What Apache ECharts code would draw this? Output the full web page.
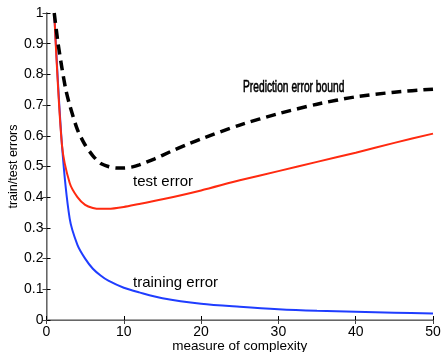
<!DOCTYPE html>
<html>
<head>
<meta charset="utf-8">
<script src="https://cdn.jsdelivr.net/npm/echarts@6/dist/echarts.min.js"></script>
<style>html,body{margin:0;padding:0;background:#fff;}#c{width:443px;height:352px;}</style>
</head>
<body>
<div id="c"></div>
<script>
const trainX = [1, 2, 3, 4, 5, 6, 7, 8, 10, 12, 15, 20, 25, 30, 35, 40, 45, 50];
const trainY = [1.0, 0.57, 0.33, 0.245, 0.2, 0.167, 0.145, 0.128, 0.105, 0.09, 0.071, 0.053, 0.043, 0.035, 0.03, 0.027, 0.024, 0.021];
const testX = [1, 2, 3, 4, 5, 6, 7, 8, 10, 12, 15, 20, 25, 30, 35, 40, 45, 50];
const testY = [1.0, 0.57, 0.446, 0.40, 0.375, 0.365, 0.362, 0.362, 0.368, 0.378, 0.393, 0.422, 0.455, 0.485, 0.515, 0.545, 0.577, 0.607];
const boundX = [1, 1.5, 2, 2.5, 3, 4, 5, 6, 7, 8, 9, 10, 11, 12, 14, 16, 18, 20, 25, 30, 35, 40, 45, 50];
const boundY = [1.0, 0.9, 0.82, 0.75, 0.70, 0.62, 0.57, 0.535, 0.51, 0.5, 0.495, 0.495, 0.498, 0.505, 0.525, 0.548, 0.57, 0.59, 0.635, 0.672, 0.703, 0.727, 0.742, 0.752];
const xTicks = [0, 10, 20, 30, 40, 50];
const yTicks = [0, 0.1, 0.2, 0.3, 0.4, 0.5, 0.6, 0.7, 0.8, 0.9, 1];

const zip = (xs, ys) => xs.map((x, i) => [x, ys[i]]);
const font = 'Liberation Sans, Arial, sans-serif';
const chart = echarts.init(document.getElementById('c'));
const tickFmt = v => String(Math.round(v * 10) / 10);
chart.setOption({
  animation: false,
  backgroundColor: '#fff',
  grid: { left: 46.5, right: 10, top: 13, bottom: 32, containLabel: false, outerBoundsMode: 'none' },
  xAxis: [{
    type: 'value', min: xTicks[0], max: xTicks[xTicks.length - 1], interval: 10,
    name: 'measure of complexity', nameLocation: 'middle', nameGap: 19, nameMoveOverlap: false,
    nameTextStyle: { fontFamily: font, fontSize: 13.5, color: '#000' },
    axisLine: { lineStyle: { color: '#000', width: 1 } },
    axisTick: { inside: true, length: 4, lineStyle: { color: '#000' } },
    axisLabel: { fontFamily: font, fontSize: 14, color: '#000', margin: 5 },
    splitLine: { show: false }
  }, {
    type: 'value', min: xTicks[0], max: xTicks[xTicks.length - 1], interval: 10, position: 'top',
    axisLine: { show: true, lineStyle: { color: '#888', width: 1.5 } },
    axisTick: { inside: true, length: 4, lineStyle: { color: '#444' } },
    axisLabel: { show: false }, splitLine: { show: false }
  }],
  yAxis: [{
    type: 'value', min: yTicks[0], max: yTicks[yTicks.length - 1], interval: 0.1,
    name: 'train/test errors', nameLocation: 'middle', nameGap: 26, nameRotate: 90, nameMoveOverlap: false,
    nameTextStyle: { fontFamily: font, fontSize: 12.5, color: '#000' },
    axisLine: { show: true, lineStyle: { color: '#000', width: 1 } },
    axisTick: { show: true, inside: true, length: 4, lineStyle: { color: '#000' } },
    axisLabel: { fontFamily: font, fontSize: 14, color: '#000', margin: 3, formatter: tickFmt },
    splitLine: { show: false }
  }, {
    type: 'value', min: yTicks[0], max: yTicks[yTicks.length - 1], interval: 0.1, position: 'right',
    axisLine: { show: true, lineStyle: { color: '#888', width: 1.5 } },
    axisTick: { show: true, inside: true, length: 4, lineStyle: { color: '#444' } },
    axisLabel: { show: false }, splitLine: { show: false }
  }],
  series: [{
    name: 'training error', type: 'line', data: zip(trainX, trainY), smooth: 0.3,
    showSymbol: false, lineStyle: { color: '#1f3dff', width: 2 }, z: 2
  }, {
    name: 'test error', type: 'line', data: zip(testX, testY), smooth: 0.25,
    showSymbol: false, lineStyle: { color: '#ff2a10', width: 2 }, z: 3
  }, {
    name: 'Prediction error bound', type: 'line', data: zip(boundX, boundY), smooth: 0.25,
    showSymbol: false, lineStyle: { color: '#000', width: 3.5, type: [10, 6] }, z: 4
  }],
  graphic: [
    { type: 'text', x: 243, y: 80, scaleX: 0.64, style: { text: 'Prediction error bound', font: '16px Liberation Sans, Arial, sans-serif', fill: '#000', stroke: '#000', lineWidth: 0.6 } },
    { type: 'text', x: 133, y: 174, style: { text: 'test error', font: '15px Liberation Sans, Arial, sans-serif', fill: '#000' } },
    { type: 'text', x: 133, y: 275, style: { text: 'training error', font: '15px Liberation Sans, Arial, sans-serif', fill: '#000' } }
  ]
});
</script>
</body>
</html>
